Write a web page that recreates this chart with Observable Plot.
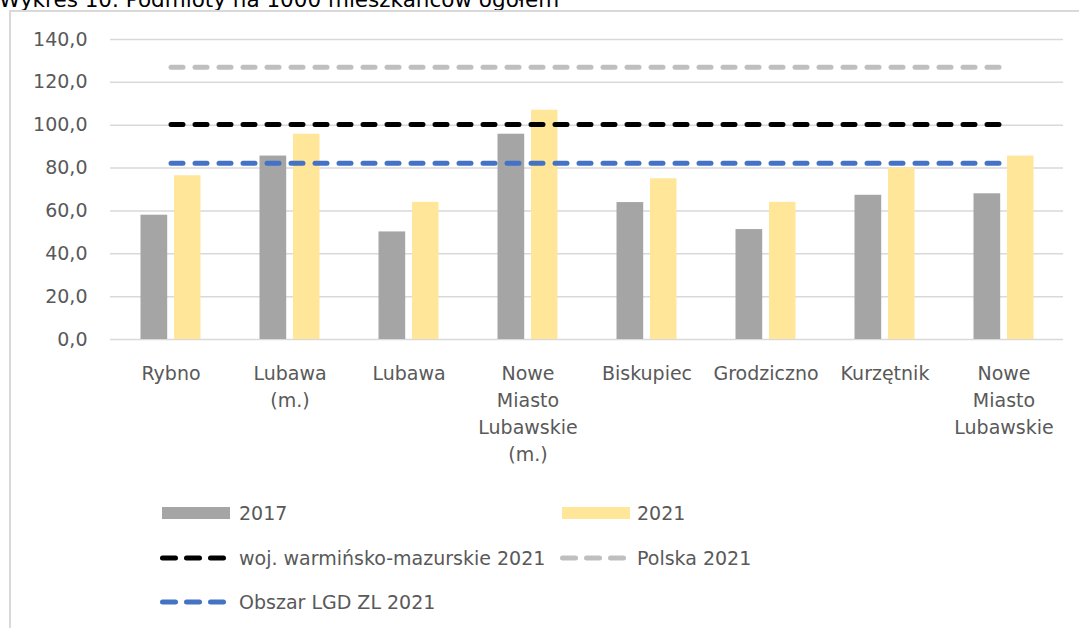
<!DOCTYPE html>
<html>
<head>
<meta charset="utf-8">
<script src="https://cdn.jsdelivr.net/npm/d3@7"></script>
<script src="https://cdn.jsdelivr.net/npm/@observablehq/plot@0.6"></script>
<style>
  html, body { margin: 0; padding: 0; background: #fff; width: 1079px; height: 628px; overflow: hidden; position: relative; font-family: "DejaVu Sans", sans-serif; }
  #title { position: absolute; left: -1px; top: -11px; font-size: 21.5px; line-height: 22px; color: #000; white-space: nowrap; }
  #frame { position: absolute; left: 9px; top: 10px; width: 1200px; height: 700px; border: 2px solid #d9d9d9; box-sizing: border-box; }
  #chart { position: absolute; left: 0; top: 0; }
  .leg { position: absolute; font-size: 19px; color: #595959; white-space: nowrap; line-height: 19px; }
  .sw { position: absolute; }
</style>
</head>
<body>
<div id="title">Wykres 10. Podmioty na 1000 mieszkańców ogółem</div>
<div id="frame"></div>
<div id="chart"></div>
<div id="legend"></div>
<script>
const categories = ["Rybno", "Lubawa (m.)", "Lubawa", "Nowe Miasto Lubawskie (m.)", "Biskupiec", "Grodziczno", "Kurzętnik", "Nowe Miasto Lubawskie"];
const values2017 = [58.0, 85.6, 50.2, 95.8, 63.9, 51.3, 67.3, 68.0];
const values2021 = [76.4, 95.8, 64.0, 107.0, 75.0, 64.0, 80.1, 85.6];
const seriesNames = ["2017", "2021"];
const refNames = ["woj. warmińsko-mazurskie 2021", "Polska 2021", "Obszar LGD ZL 2021"];
const refValues = [100.3, 127.1, 82.3];
const yTicks = [0, 20, 40, 60, 80, 100, 120, 140];

const colors = {"2017": "#a5a5a5", "2021": "#ffe699"};
const refColors = ["#000000", "#bfbfbf", "#4472c4"];

const bars2017 = categories.map((c, i) => ({cat: c, v: values2017[i]}));
const bars2021 = categories.map((c, i) => ({cat: c, v: values2021[i]}));
const refLines = refNames.map((n, k) => categories.map(c => ({cat: c, v: refValues[k], name: n})));

const fmt = d => d.toFixed(1).replace(".", ",");

const chart = Plot.plot({
  width: 1079,
  height: 470,
  marginLeft: 110,
  marginRight: 16,
  marginTop: 39,
  marginBottom: 131,
  x: {domain: categories, padding: 0, axis: null},
  y: {domain: [0, 140], axis: null},
  style: {background: "transparent", fontFamily: "'DejaVu Sans', sans-serif", fontSize: "19px", color: "#595959", overflow: "visible"},
  marks: [
    Plot.ruleY(yTicks, {stroke: "#d9d9d9", strokeWidth: 1.5}),
    Plot.axisY({ticks: yTicks, tickSize: 0, tickPadding: 23, tickFormat: fmt, label: null, fontSize: 19}),
    Plot.axisX({tickSize: 0, tickPadding: 21, tickFormat: d => d.split(" ").join("\n"), lineHeight: 1.42, label: null, fontSize: 19}),
    Plot.barY(bars2017, {x: "cat", y: "v", fill: colors["2017"], insetLeft: 29.5, insetRight: 62.8}),
    Plot.barY(bars2021, {x: "cat", y: "v", fill: colors["2021"], insetLeft: 63, insetRight: 29.5}),
    ...refLines.map((d, k) => Plot.lineY(d, {x: "cat", y: "v", stroke: refColors[k], strokeWidth: 5, strokeDasharray: "12,12", strokeLinecap: "round"}))
  ]
});
document.getElementById("chart").appendChild(chart);

// Legend
const legend = document.getElementById("legend");
function addText(txt, left, cy) {
  const d = document.createElement("div");
  d.className = "leg";
  d.textContent = txt;
  d.style.left = left + "px";
  d.style.top = (cy - 9) + "px";
  legend.appendChild(d);
}
function addRect(color, left, cy) {
  const d = document.createElement("div");
  d.className = "sw";
  d.style.left = left + "px";
  d.style.top = (cy - 6) + "px";
  d.style.width = "68px";
  d.style.height = "12px";
  d.style.background = color;
  legend.appendChild(d);
}
function addDash(color, left, cy) {
  const ns = "http://www.w3.org/2000/svg";
  const s = document.createElementNS(ns, "svg");
  s.setAttribute("width", 70);
  s.setAttribute("height", 10);
  s.setAttribute("class", "sw");
  s.style.left = left + "px";
  s.style.top = (cy - 5) + "px";
  const l = document.createElementNS(ns, "line");
  l.setAttribute("x1", 2.5); l.setAttribute("x2", 63.5);
  l.setAttribute("y1", 5); l.setAttribute("y2", 5);
  l.setAttribute("stroke", color);
  l.setAttribute("stroke-width", 5);
  l.setAttribute("stroke-dasharray", "13,11");
  l.setAttribute("stroke-linecap", "round");
  s.appendChild(l);
  legend.appendChild(s);
}
addRect(colors["2017"], 162, 513); addText(seriesNames[0], 239, 513);
addRect(colors["2021"], 562, 513); addText(seriesNames[1], 637, 513);
addDash(refColors[0], 160, 557.5); addText(refNames[0], 239, 557.5);
addDash(refColors[1], 560, 557.5); addText(refNames[1], 637, 557.5);
addDash(refColors[2], 160, 602); addText(refNames[2], 239, 602);
</script>
</body>
</html>
